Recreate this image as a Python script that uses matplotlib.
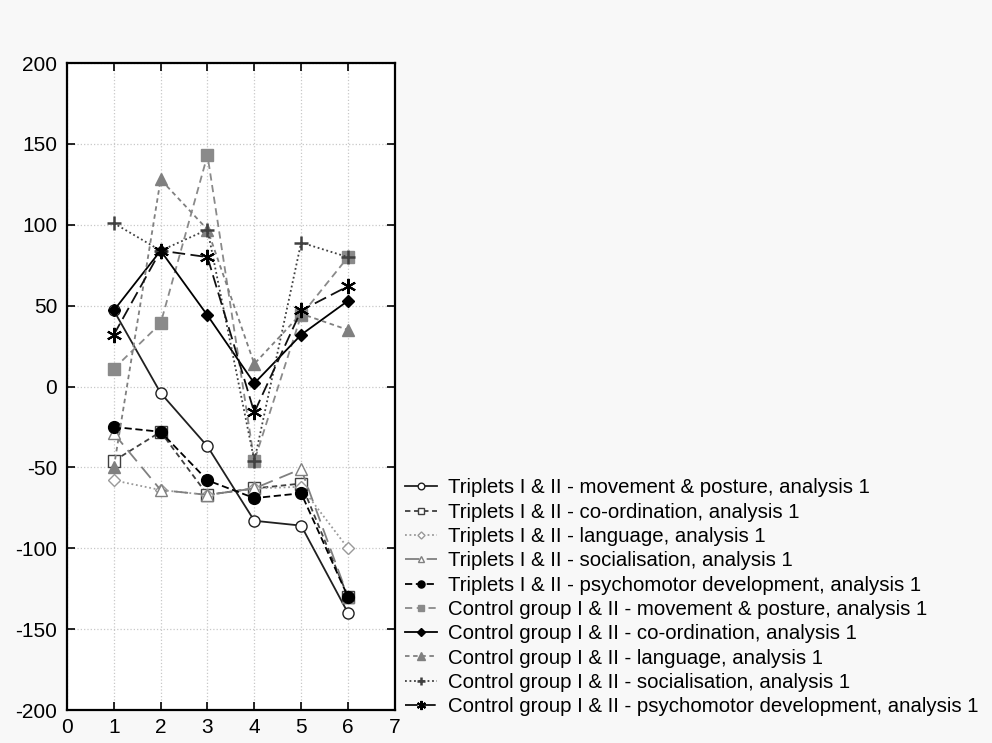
import matplotlib
matplotlib.use("Agg")
import matplotlib.pyplot as plt

plt.rcParams['font.family'] = ['Liberation Sans', 'DejaVu Sans']
plt.rcParams['axes.unicode_minus'] = False

x = [1, 2, 3, 4, 5, 6]
labels = [
    "Triplets I & II - movement & posture, analysis 1",
    "Triplets I & II - co-ordination, analysis 1",
    "Triplets I & II - language, analysis 1",
    "Triplets I & II - socialisation, analysis 1",
    "Triplets I & II - psychomotor development, analysis 1",
    "Control group I & II - movement & posture, analysis 1",
    "Control group I & II - co-ordination, analysis 1",
    "Control group I & II - language, analysis 1",
    "Control group I & II - socialisation, analysis 1",
    "Control group I & II - psychomotor development, analysis 1",
]
trip_movement = [47, -4, -37, -83, -86, -140]
trip_coord = [-46, -28, -67, -63, -60, -130]
trip_language = [-58, -64, -67, -63, -62, -100]
trip_social = [-29, -64, -67, -63, -51, -130]
trip_psycho = [-25, -28, -58, -69, -66, -130]
ctrl_movement = [11, 39, 143, -46, 44, 80]
ctrl_coord = [47, 84, 44, 2, 32, 53]
ctrl_language = [-50, 128, 97, 14, 45, 35]
ctrl_social = [101, 84, 97, -46, 89, 80]
ctrl_psycho = [32, 84, 80, -16, 47, 62]

series = [trip_movement, trip_coord, trip_language, trip_social, trip_psycho,
          ctrl_movement, ctrl_coord, ctrl_language, ctrl_social, ctrl_psycho]

styles = [
    dict(color='#202020', ls='-', marker='o', mfc='white', mec='#202020', ms=8),
    dict(color='#404040', ls=(0, (3, 2)), marker='s', mfc='white', mec='#404040', ms=8),
    dict(color='#9a9a9a', ls=(0, (1, 1.5)), marker='D', mfc='white', mec='#9a9a9a', ms=6),
    dict(color='#808080', ls=(0, (8, 4)), marker='^', mfc='white', mec='#808080', ms=8),
    dict(color='#000000', ls=(0, (4, 2)), marker='o', mfc='black', mec='black', ms=8.5),
    dict(color='#8a8a8a', ls=(0, (4, 2.5)), marker='s', mfc='#8a8a8a', mec='#8a8a8a', ms=8),
    dict(color='#000000', ls='-', marker='D', mfc='black', mec='black', ms=6.5),
    dict(color='#808080', ls=(0, (2.5, 2)), marker='^', mfc='#808080', mec='#808080', ms=8.5),
    dict(color='#404040', ls=(0, (1, 1.5)), marker='+', mfc='#404040', mec='#404040', ms=10, mew=1.8),
    dict(color='#101010', ls=(0, (7, 3)), marker=(6, 2, 0), mfc='black', mec='black', ms=11, mew=1.5),
]

fig = plt.figure(figsize=(9.92, 7.43), dpi=100, facecolor='#f8f8f8')
ax = fig.add_axes([0.0675, 0.0444, 0.3305, 0.8708])
ax.set_facecolor('white')

for ys, lab, st in zip(series, labels, styles):
    st = dict(st)
    ax.plot(x, ys, label=lab, lw=1.3, linestyle=st.pop('ls'), **st)

ax.set_xlim(0, 7)
ax.set_ylim(-200, 200)
ax.set_xticks(range(0, 8))
ax.set_yticks(range(-200, 201, 50))
ax.grid(True, color='#c8c8c8', ls=':', lw=0.9)
ax.tick_params(direction='in', top=True, right=True, length=6, width=1.2, labelsize=15)
ax.tick_params(axis='y', pad=7)
ax.tick_params(axis='x', pad=6)
for sp in ax.spines.values():
    sp.set_linewidth(1.6)

leg = fig.legend(loc='lower left', bbox_to_anchor=(0.408, 0.036), frameon=False,
                 fontsize=14.7, handlelength=1.6, handletextpad=0.5,
                 labelspacing=0.26, markerscale=0.6, borderpad=0, borderaxespad=0)

fig.savefig('out.png', dpi=100, facecolor=fig.get_facecolor())
